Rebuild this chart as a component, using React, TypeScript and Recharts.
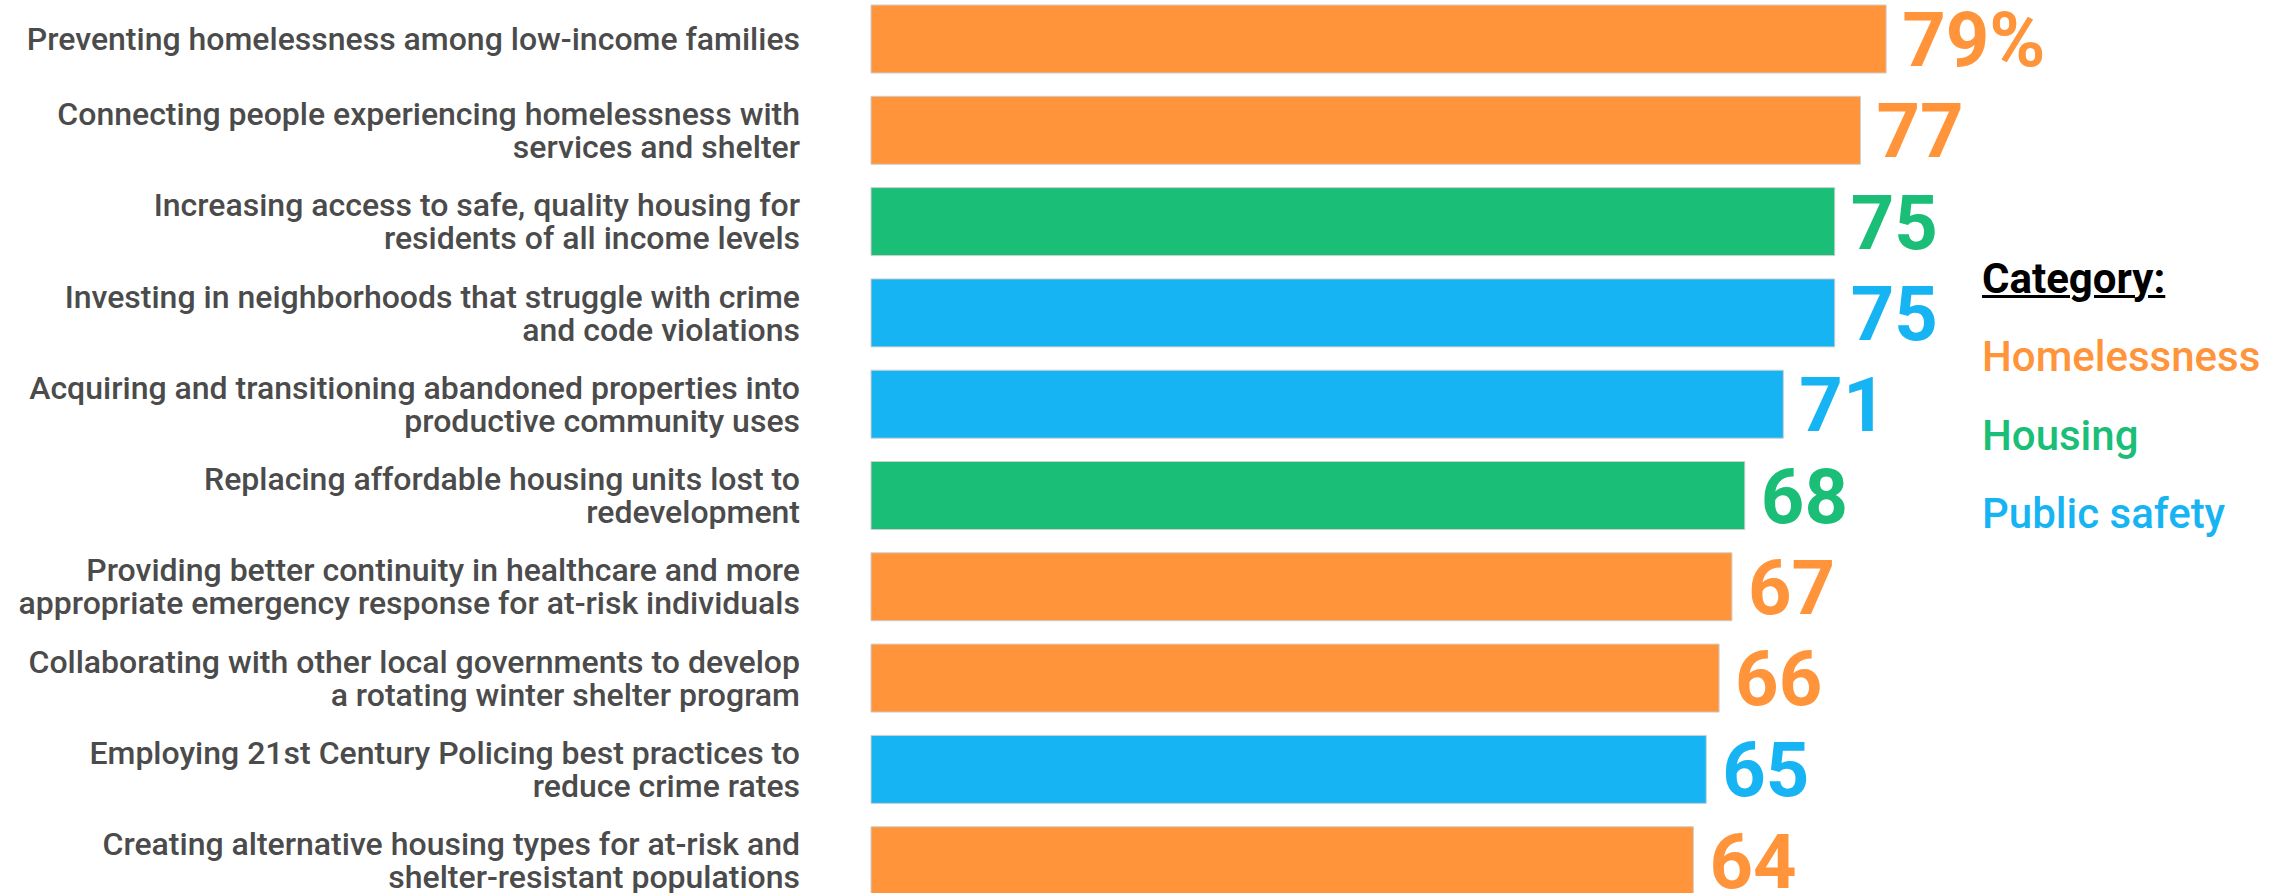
import React from "react";
import { BarChart, Bar, XAxis, YAxis, Cell, LabelList } from "recharts";

const categories: string[] = [
  "Preventing homelessness among low-income families",
  "Connecting people experiencing homelessness with\nservices and shelter",
  "Increasing access to safe, quality housing for\nresidents of all income levels",
  "Investing in neighborhoods that struggle with crime\nand code violations",
  "Acquiring and transitioning abandoned properties into\nproductive community uses",
  "Replacing affordable housing units lost to\nredevelopment",
  "Providing better continuity in healthcare and more\nappropriate emergency response for at-risk individuals",
  "Collaborating with other local governments to develop\na rotating winter shelter program",
  "Employing 21st Century Policing best practices to\nreduce crime rates",
  "Creating alternative housing types for at-risk and\nshelter-resistant populations",
];

const values: number[] = [79, 77, 75, 75, 71, 68, 67, 66, 65, 64];

const groups: string[] = [
  "Homelessness",
  "Homelessness",
  "Housing",
  "Public safety",
  "Public safety",
  "Housing",
  "Homelessness",
  "Homelessness",
  "Public safety",
  "Homelessness",
];

const legendTitle = "Category:";
const legendItems: string[] = ["Homelessness", "Housing", "Public safety"];

const COLORS: Record<string, string> = {
  Homelessness: "#FF943B",
  Housing: "#1ABE77",
  "Public safety": "#17B4F3",
};

const data = categories.map((c, i) => ({
  label: c,
  value: values[i],
  group: groups[i],
}));

const FONT = "Roboto, 'Noto Sans', sans-serif";

const LeftTick = (props: any) => {
  const { x, y, payload } = props;
  const lines: string[] = String(payload.value).split("\n");
  const lh = 33;
  const cap = 11.5;
  const first = -((lines.length - 1) * lh) / 2 + cap;
  return (
    <g>
      <text
        x={x}
        y={y}
        textAnchor="end"
        fill="#4b4b4b"
        fontFamily={FONT}
        fontWeight={500}
        fontSize={32}
      >
        {lines.map((l, i) => (
          <tspan key={i} x={x} dy={i === 0 ? first : lh}>
            {l}
          </tspan>
        ))}
      </text>
    </g>
  );
};

const ValueLabel = (props: any) => {
  const { x, y, width, height, value, index } = props;
  const color = COLORS[groups[index]];
  const txt = index === 0 ? `${value}%` : `${value}`;
  return (
    <text
      x={x + width + 16}
      y={y + height / 2 + 27}
      fill={color}
      fontFamily={FONT}
      fontWeight={700}
      fontSize={76}
      textAnchor="start"
    >
      {txt}
    </text>
  );
};

const LegendBox = () => (
  <div
    style={{
      position: "absolute",
      left: 1982,
      top: 239.5,
      fontFamily: FONT,
      fontSize: 42,
      lineHeight: "78.5px",
      whiteSpace: "nowrap",
    }}
  >
    <div style={{ fontWeight: 700, color: "#000", textDecoration: "underline", textDecorationThickness: 3 }}>
      {legendTitle}
    </div>
    {legendItems.map((it) => (
      <div key={it} style={{ fontWeight: 500, color: COLORS[it] }}>
        {it}
      </div>
    ))}
  </div>
);

export default function App() {
  return (
    <div style={{ position: "absolute", left: 0, top: 0, width: 2284, height: 893, overflow: "hidden" }}>
      <div style={{ position: "absolute", left: 0, top: -6.7, width: 2284, height: 913 }}>
        <BarChart
          width={2284}
          height={913}
          data={data}
          layout="vertical"
          margin={{ top: 0, right: 128, bottom: 0, left: 0 }}
        >
          <XAxis type="number" domain={[0, 100]} hide />
          <YAxis
            type="category"
            dataKey="label"
            width={871}
            axisLine={false}
            tickLine={false}
            tickSize={0}
            tickMargin={71}
            tick={<LeftTick />}
            interval={0}
          />
          <Bar dataKey="value" barSize={68} isAnimationActive={false} stroke="#cfcfcf" strokeWidth={1}>
            {data.map((d, i) => (
              <Cell key={i} fill={COLORS[d.group]} />
            ))}
            <LabelList dataKey="value" content={<ValueLabel />} />
          </Bar>
        </BarChart>
      </div>
      <LegendBox />
    </div>
  );
}
